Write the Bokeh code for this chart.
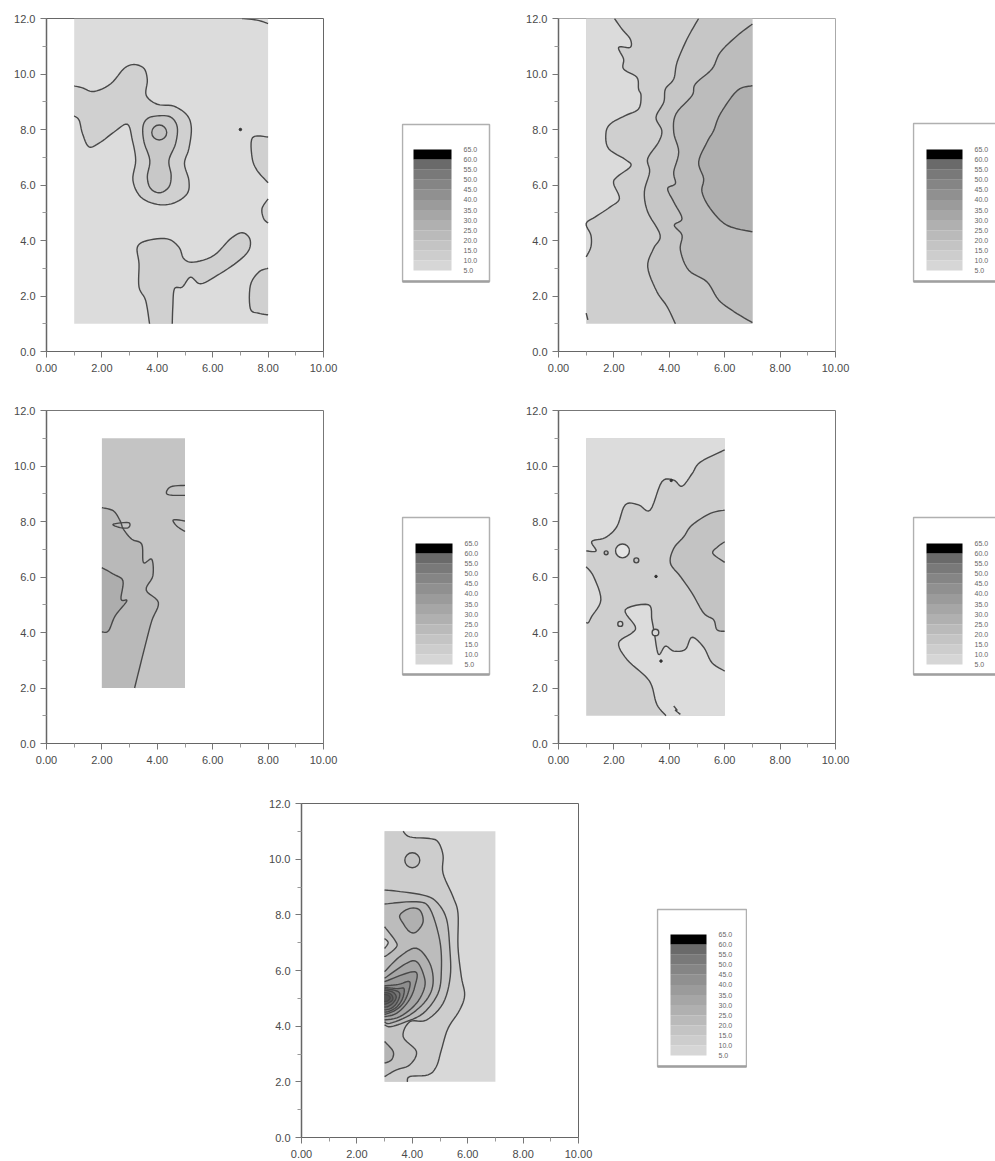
from bokeh.plotting import figure
from bokeh.layouts import column, row
from bokeh.models import FixedTicker, NumeralTickFormatter, Range1d
from bokeh.core.properties import value
from bokeh.embed import file_html
from bokeh.resources import INLINE

FONT = "Liberation Sans"
X_TICKS = [0, 2, 4, 6, 8, 10]
X_MINOR = [1, 3, 5, 7, 9]
Y_TICKS = [0, 2, 4, 6, 8, 10, 12]
Y_MINOR = [1, 3, 5, 7, 9, 11]

LEVELS = [5, 10, 15, 20, 25, 30, 35, 40, 45, 50, 55, 60, 65]
LEVEL_COLORS = ["#d6d6d6", "#cdcdcd", "#c4c4c4", "#bababa", "#b0b0b0", "#a6a6a6",
                "#9b9b9b", "#909090", "#858585", "#797979", "#6a6a6a", "#000000"]
LEVEL_LABELS = ["5.0", "10.0", "15.0", "20.0", "25.0", "30.0", "35.0", "40.0",
                "45.0", "50.0", "55.0", "60.0", "65.0"]

# ---- panel 1 contours (x, y)
p1_a = [(1, 9.57), (1.3, 9.5), (1.72, 9.37), (2.32, 9.65), (2.8, 10.2), (3.16, 10.34), (3.52, 10.2), (3.64, 9.78),
        (3.6, 9.23), (4.0, 8.91), (4.6, 8.84), (5.08, 8.51), (5.23, 8.03), (5.14, 7.31), (4.98, 6.77), (5.14, 6.17),
        (5.08, 5.69), (4.6, 5.35), (4.0, 5.3), (3.4, 5.57), (3.12, 6.17), (3.22, 6.89), (3.1, 7.61), (2.92, 8.19),
        (2.44, 7.91), (1.96, 7.55), (1.54, 7.37), (1.3, 7.85), (1.18, 8.33), (1, 8.49)]
p1_b = [(4.0, 8.49), (4.48, 8.45), (4.72, 8.09), (4.66, 7.49), (4.42, 6.89), (4.5, 6.35), (4.42, 5.93), (4.09, 5.72),
        (3.76, 5.87), (3.64, 6.29), (3.73, 6.89), (3.52, 7.55), (3.48, 8.09), (3.64, 8.39), (4.0, 8.49)]
p1_d = [(8, 7.73), (7.44, 7.71), (7.42, 7.0), (7.6, 6.53), (8, 6.08)]
p1_e = [(8, 5.5), (7.78, 5.15), (7.84, 4.79), (8, 4.63)]
p1_f = [(3.72, 1), (3.58, 1.84), (3.34, 2.32), (3.34, 3.16), (3.28, 3.76), (3.64, 4.0), (4.36, 4.06), (4.78, 3.76),
        (4.96, 3.34), (5.32, 3.22), (6.04, 3.46), (6.64, 4.06), (7.06, 4.28), (7.34, 4.06), (7.3, 3.64), (6.88, 3.22),
        (6.16, 2.74), (5.56, 2.44), (5.2, 2.68), (4.9, 2.32), (4.62, 2.26), (4.56, 1.6), (4.54, 1)]
p1_g = [(8, 3.0), (7.66, 2.86), (7.36, 2.38), (7.36, 1.54), (7.66, 1.38), (8, 1.32)]
p1_top = [(7.06, 12), (7.6, 11.94), (8, 11.82)]
p1_rings = [(4.07, 7.89, 0.27, "#c2c2c2")]
p1_dots = [(7.0, 8.0)]

# ---- panel 2
p2_a = [(2.02, 12), (2.29, 11.62), (2.59, 11.26), (2.59, 10.96), (2.17, 10.96), (2.35, 10.54), (2.35, 10.18), (2.83, 9.88),
        (2.89, 9.46), (2.98, 9.22), (2.89, 8.74), (2.41, 8.5), (1.87, 8.2), (1.71, 7.84), (1.81, 7.31), (2.41, 6.92),
        (2.61, 6.68), (2.11, 6.29), (1.99, 6.05), (2.2, 5.51), (1.87, 5.21), (1.33, 4.85), (1, 4.61), (1.17, 4.19),
        (1.17, 3.77), (1, 3.41)]
p2_b = [(5.06, 12), (4.64, 11.26), (4.28, 10.42), (4.16, 9.82), (3.86, 9.46), (3.8, 8.98), (3.52, 8.44), (3.73, 7.96),
        (3.61, 7.54), (3.22, 6.95), (3.29, 6.47), (3.1, 5.75), (3.22, 5.03), (3.67, 4.19), (3.43, 3.71), (3.22, 3.05),
        (3.55, 2.16), (3.92, 1.62), (4.22, 1)]
p2_c = [(7, 11.8), (6.45, 11.38), (5.84, 10.78), (5.54, 10.18), (4.94, 9.64), (4.82, 9.22), (4.24, 8.56), (4.16, 7.9),
        (4.34, 7.19), (4.16, 6.47), (4.22, 6.05), (3.94, 5.87), (4.16, 5.39), (4.46, 4.79), (4.18, 4.55), (4.46, 4.19),
        (4.4, 3.65), (4.7, 2.93), (5.36, 2.51), (5.78, 1.86), (6.33, 1.44), (7, 1.04)]
p2_d = [(7, 9.58), (6.45, 9.4), (5.84, 8.56), (5.6, 7.96), (5.36, 7.54), (5.06, 6.83), (5.24, 6.23), (5.18, 5.75),
        (5.48, 5.15), (6.08, 4.55), (7, 4.31)]
p2_tick = [(1, 1.38), (1.06, 1.14)]

# ---- panel 3
p3_a = [(2, 8.5), (2.42, 8.38), (2.66, 8.02), (2.78, 7.72), (3.08, 7.36), (3.44, 7.18), (3.5, 6.52), (3.8, 6.64),
        (3.84, 6.04), (3.6, 5.53), (4.04, 5.08), (3.8, 4.42), (3.56, 3.52), (3.18, 2)]
p3_b = [(2, 6.34), (2.42, 6.1), (2.76, 5.86), (2.69, 5.2), (2.9, 5.14), (2.48, 4.6), (2.24, 4.06), (2, 4.02)]
p3_c = [(2.4, 7.9), (2.96, 7.96), (2.96, 7.78), (2.66, 7.78), (2.4, 7.9)]
p3_d = [(5, 9.3), (4.48, 9.25), (4.36, 8.98), (5, 8.94)]
p3_e = [(5, 8.02), (4.58, 8.06), (4.7, 7.84), (5, 7.64)]

# ---- panel 4
p4_a = [(1, 6.94), (1.36, 6.94), (1.2, 7.28), (1.69, 7.42), (2.11, 7.82), (2.41, 8.6), (2.89, 8.6), (3.31, 8.41),
        (3.73, 9.43), (4.16, 9.49), (4.46, 9.27), (4.82, 9.72), (5.12, 10.14), (6, 10.58)]
p4_b = [(6, 8.41), (5.48, 8.29), (4.82, 7.87), (4.52, 7.45), (4.16, 7.03), (4.04, 6.5), (4.4, 6.02), (4.82, 5.42),
        (5.24, 4.7), (5.6, 4.46), (5.72, 4.1), (6, 4.04)]
p4_c = [(6, 7.27), (5.75, 7.09), (5.57, 6.85), (6, 6.53)]
p4_d = [(1, 6.37), (1.27, 6.01), (1.53, 5.18), (1.2, 4.58), (1.08, 4.36), (1, 4.36)]
p4_e = [(6, 2.61), (5.54, 2.91), (5.24, 3.47), (4.82, 3.83), (4.58, 3.39), (4.16, 3.33), (3.86, 3.51), (3.61, 3.21),
        (3.46, 3.98), (3.37, 4.46), (3.25, 5.0), (2.41, 4.82), (2.77, 4.22), (2.65, 3.98), (2.17, 3.62), (2.47, 3.03),
        (3.13, 2.43), (3.37, 2.07), (3.55, 1.41), (3.88, 1)]
p4_tick = [(4.16, 1.35), (4.28, 1.2), (4.22, 1.2), (4.4, 1.05)]
p4_rings = [(2.31, 6.94, 0.25, "#e4e4e4"), (1.72, 6.87, 0.07, "#bdbdbd"), (2.81, 6.6, 0.09, "#c4c4c4"),
            (2.23, 4.31, 0.09, "#d8d8d8"), (3.5, 4.0, 0.12, "#d8d8d8")]
p4_dots = [(3.52, 6.02), (3.7, 2.97), (4.07, 9.48)]

# ---- panel 5
p5_a = [(3.67, 11), (3.91, 10.8), (4.63, 10.74), (4.93, 10.62), (5.11, 10.14), (5.11, 9.49), (5.47, 8.65), (5.65, 8.05),
        (5.65, 6.85), (5.77, 5.78), (5.89, 5.12), (5.71, 4.58), (5.29, 3.92), (5.05, 3.15), (4.87, 2.55), (4.57, 2.25),
        (3.91, 2.19), (3.82, 2)]
p5_b = [(3, 8.89), (3.43, 8.85), (4.39, 8.71), (4.87, 8.47), (5.23, 7.87), (5.35, 6.85), (5.37, 5.78), (5.11, 4.82),
        (4.51, 4.22), (3.91, 4.16), (3.67, 3.62), (4.15, 3.09), (3.91, 2.61), (3.43, 2.43), (3, 2.19)]
p5_c = [(3, 8.39), (4.15, 8.47), (4.63, 8.23), (4.99, 7.09), (5.05, 6.02), (4.93, 5.18), (4.39, 4.46), (3.67, 4.12),
        (3.19, 3.98), (3, 4.05)]
p5_d = [(3.55, 7.99), (3.91, 8.23), (4.27, 8.17), (4.39, 7.75), (4.15, 7.39), (3.91, 7.39), (3.67, 7.69), (3.55, 7.99)]
p5_e = [(3, 7.57), (3.37, 7.09), (3.43, 6.85), (3.06, 6.53), (3, 6.53)]
p5_e2 = [(3, 7.15), (3.13, 7.0), (3, 6.79)]
p5_f = [(3, 5.96), (3.55, 6.5), (4.15, 6.8), (4.63, 6.26), (4.75, 5.54), (4.51, 4.94), (3.91, 4.4), (3.19, 4.1), (3, 4.16)]
p5_g = [(3, 5.72), (3.79, 6.26), (4.15, 6.32), (4.39, 5.9), (4.45, 5.42), (4.15, 4.82), (3.55, 4.34), (3, 4.22)]
p5_h = [(3, 5.6), (4.09, 5.96), (4.09, 5.42), (3.85, 4.88), (3.43, 4.46), (3, 4.34)]
p5_i = [(3, 5.45), (3.5, 5.5), (3.9, 5.6), (3.85, 5.2), (3.65, 4.8), (3.35, 4.55), (3, 4.42)]
p5_j = [(3, 5.4), (3.45, 5.35), (3.7, 5.35), (3.65, 5.0), (3.45, 4.7), (3.2, 4.55), (3, 4.5)]
p5_k = [(3, 5.35), (3.4, 5.28), (3.55, 5.15), (3.45, 4.85), (3.25, 4.65), (3, 4.58)]
p5_l = [(3, 5.3), (3.3, 5.22), (3.42, 5.05), (3.32, 4.85), (3.15, 4.72), (3, 4.68)]
p5_m = [(3, 5.22), (3.22, 5.15), (3.3, 5.0), (3.22, 4.88), (3, 4.78)]
p5_n = [(3, 5.15), (3.15, 5.1), (3.2, 5.0), (3.1, 4.9), (3, 4.88)]
p5_o = [(3, 3.45), (3.31, 3.09), (3.25, 2.79), (3, 2.67)]
p5_rings = [(4.0, 9.96, 0.27, "#c4c4c4")]

LINE = "#484848"
LINE_W = 1.4


def curve(pts, steps=6):
    """Draw a contour as a Catmull-Rom curve through the points that were read."""
    closed = pts[0] == pts[-1]
    base = pts[:-1] if closed else pts
    n = len(base)
    if n < 3:
        return pts
    out = []
    segs = n if closed else n - 1
    for i in range(segs):
        if closed:
            p0, p1, p2, p3 = base[(i - 1) % n], base[i], base[(i + 1) % n], base[(i + 2) % n]
        else:
            p0, p1, p2, p3 = base[max(i - 1, 0)], base[i], base[i + 1], base[min(i + 2, n - 1)]
        for s in range(steps):
            t = s / steps
            out.append(tuple(
                0.5 * (2 * p1[k] + (p2[k] - p0[k]) * t + (2 * p0[k] - 5 * p1[k] + 4 * p2[k] - p3[k]) * t ** 2
                       + (3 * p1[k] - p0[k] - 3 * p2[k] + p3[k]) * t ** 3) for k in (0, 1)))
    out.append(pts[-1] if not closed else out[0])
    return out


def panel(width, height, left, right, top, bottom, extent, base, bands, rings=(), dots=(), lines=(),
          outline="#888888"):
    p = figure(width=width, height=height, output_backend="svg", toolbar_location=None,
               x_range=Range1d(0, 10), y_range=Range1d(0, 12),
               min_border_left=left, min_border_right=right, min_border_top=top, min_border_bottom=bottom)
    p.grid.visible = False
    p.outline_line_color = outline
    p.xaxis.ticker = FixedTicker(ticks=X_TICKS, minor_ticks=X_MINOR)
    p.yaxis.ticker = FixedTicker(ticks=Y_TICKS, minor_ticks=Y_MINOR)
    p.xaxis.formatter = NumeralTickFormatter(format="0.00")
    p.yaxis.formatter = NumeralTickFormatter(format="0.0")
    for ax in (p.xaxis[0], p.yaxis[0]):
        ax.major_label_text_font = FONT
        ax.major_label_text_font_size = "11px"
        ax.major_label_text_color = "#4a4a4a"
        ax.major_label_standoff = 5
        ax.major_tick_in = 0
        ax.major_tick_out = 6
        ax.minor_tick_in = 0
        ax.minor_tick_out = 4
        ax.axis_line_color = "#666666"
        ax.major_tick_line_color = "#777777"
        ax.minor_tick_line_color = "#999999"
    p.xaxis[0].major_label_standoff = 6
    p.yaxis[0].axis_line_width = 1.5
    x0, x1, y0, y1 = extent
    p.quad(left=[x0], right=[x1], bottom=[y0], top=[y1], fill_color=base, line_color=None)
    for contour, corners, color in bands:
        pts = list(curve(contour)) + list(corners)
        p.patch([a for a, _ in pts], [b for _, b in pts], fill_color=color, line_color=None)
    for contour in [b[0] for b in bands] + list(lines):
        drawn = curve(contour)
        p.line([a for a, _ in drawn], [b for _, b in drawn], line_color=LINE, line_width=LINE_W)
    for cx, cy, r, color in rings:
        p.circle([cx], [cy], radius=r, fill_color=color, line_color=LINE, line_width=LINE_W)
    if dots:
        p.scatter([a for a, _ in dots], [b for _, b in dots], size=2.5, color="#333333")
    return p


def legend(width, height, top, bottom, box, ramp):
    # the frame lines up with its row's panel; box and ramp are pixels within the figure
    bx0, bx1, by0, by1 = box
    rx0, rx1, rtop, rbot = ramp
    scale = (LEVELS[-1] - LEVELS[0]) / (rbot - rtop)

    def val(py):
        return LEVELS[-1] - (py - rtop) * scale

    p = figure(width=width, height=height, output_backend="svg", toolbar_location=None,
               x_range=Range1d(0, width), y_range=Range1d(val(height - bottom), val(top)),
               min_border=0, min_border_left=0, min_border_right=0, min_border_top=top, min_border_bottom=bottom)
    p.axis.visible = False
    p.grid.visible = False
    p.outline_line_color = None
    p.quad(left=[bx0], right=[bx1], top=[val(by0)], bottom=[val(by1)],
           fill_color="#ffffff", line_color="#b0b0b0", line_width=1.5)
    p.line([bx0, bx1], [val(by1), val(by1)], line_color="#a0a0a0", line_width=2.5)
    p.quad(left=[rx0] * 12, right=[rx1] * 12, bottom=LEVELS[:-1], top=LEVELS[1:],
           fill_color=LEVEL_COLORS, line_color=None)
    p.text(x=[rx1 + 12] * 13, y=LEVELS, text=LEVEL_LABELS, text_font=value(FONT), text_font_size="7px",
           text_color="#666666", text_baseline="middle", text_align="left")
    return p


p1 = panel(401, 400, 46, 78, 18, 49, (1, 8, 1, 12), "#dcdcdc",
           [(p1_a, [(1, 9.57)], "#d0d0d0"), (p1_d, [], "#d0d0d0"), (p1_e, [], "#d0d0d0"),
            (p1_f, [], "#d0d0d0"), (p1_g, [], "#d0d0d0"), (p1_b, [], "#c8c8c8")],
           rings=p1_rings, dots=p1_dots, lines=[p1_top], outline="#666666")
p2 = panel(421, 400, 67, 77, 18, 49, (1, 7, 1, 12), "#cfcfcf",
           [(p2_b, [(7, 1), (7, 12)], "#c6c6c6"), (p2_c, [], "#bcbcbc"), (p2_d, [], "#afafaf"),
            (p2_a, [(1, 12)], "#dbdbdb")],
           lines=[p2_tick], outline="#aaaaaa")
p3 = panel(401, 393, 46, 78, 10, 50, (2, 5, 2, 11), "#c4c4c4",
           [(p3_a, [(2, 2)], "#b9b9b9"), (p3_b, [], "#adadad")],
           lines=[p3_c, p3_d, p3_e], outline="#777777")
p4 = panel(421, 393, 67, 77, 10, 50, (1, 6, 1, 11), "#cfcfcf",
           [(p4_a, [(6, 11), (1, 11)], "#dcdcdc"), (p4_b, [], "#c3c3c3"), (p4_c, [], "#cbcbcb"),
            (p4_d, [], "#dcdcdc"), (p4_e, [(6, 1)], "#dcdcdc")],
           rings=p4_rings, dots=p4_dots, lines=[p4_tick], outline="#777777")
p5 = panel(656, 368, 301, 78, 10, 24, (3, 7, 2, 11), "#d8d8d8",
           [(p5_a, [(3, 2), (3, 11)], "#cdcdcd"), (p5_b, [], "#c4c4c4"), (p5_c, [], "#bcbcbc"),
            (p5_d, [], "#b0b0b0"), (p5_e, [], "#c8c8c8"), (p5_e2, [], "#dadada"),
            (p5_o, [], "#b4b4b4"), (p5_f, [], "#b2b2b2"), (p5_g, [], "#a6a6a6"), (p5_h, [], "#9a9a9a"),
            (p5_i, [], "#8e8e8e"), (p5_j, [], "#828282"), (p5_k, [], "#767676"), (p5_l, [], "#6a6a6a"),
            (p5_m, [], "#5e5e5e"), (p5_n, [], "#525252")],
           rings=p5_rings, outline="#666666")

leg1 = legend(90, 400, 18, 49, (1, 88, 124, 281), (12, 50, 149, 270))
leg2 = legend(83, 400, 18, 49, (1, 95, 123, 281), (14, 50, 149, 270))
leg3 = legend(90, 393, 10, 50, (1, 88, 117, 274), (14, 51, 143, 264))
leg4 = legend(83, 393, 10, 50, (1, 95, 117, 274), (14, 50, 143, 264))
leg5 = legend(91, 368, 10, 24, (1, 90, 116, 273), (14, 50, 141, 262))

page = column(row(p1, leg1, p2, leg2), row(p3, leg3, p4, leg4), row(p5, leg5), spacing=0)
open("out.html", "w").write(file_html(page, INLINE))
